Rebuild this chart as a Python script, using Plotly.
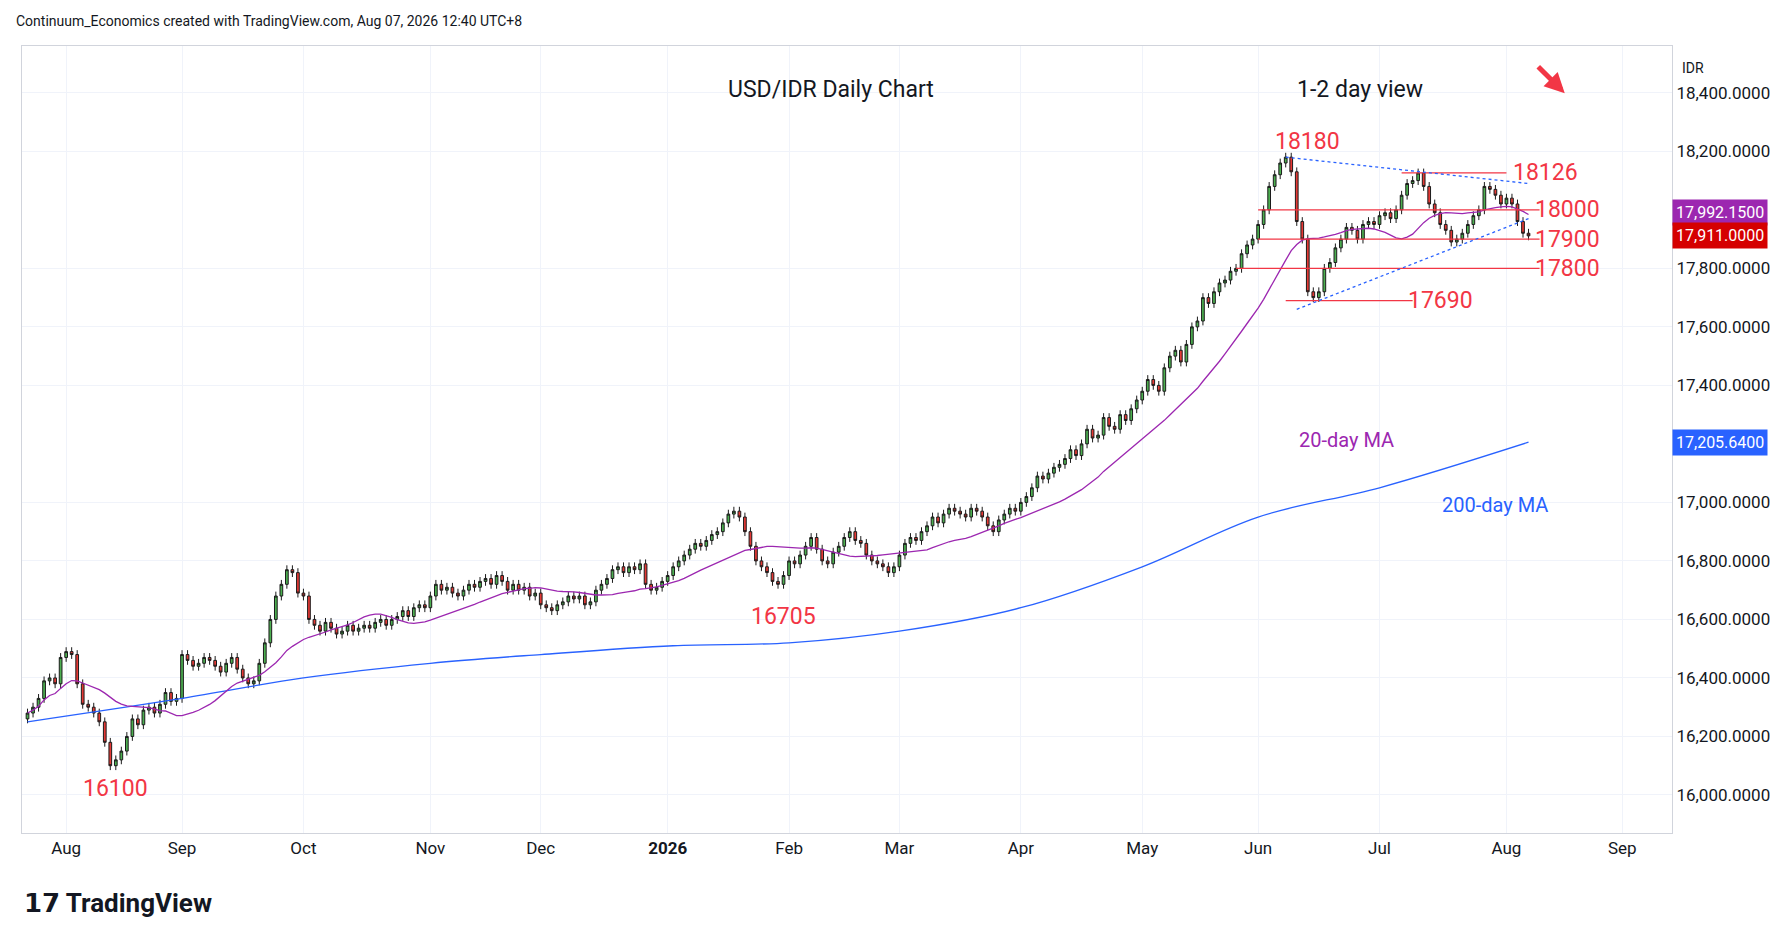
import plotly.graph_objects as go
import pandas as pd

closes = [16280,16300,16330,16390,16400,16380,16470,
16490,16480,16380,16310,16300,16280,16250,16180,16100,16120,16150,16200,16260,16240,16290,16300,16280,16310,16350,16320,16330,
16480,16460,16440,16450,16470,16460,16440,16420,16450,16470,16430,16400,16380,16390,16450,16520,16600,16680,16720,16770,16760,16690,
16680,16600,16580,16560,16590,16570,16550,16560,16580,16560,16570,16580,16570,16590,16600,16580,16600,16610,16630,16610,16640,16650,16640,
16680,16720,16700,16710,16690,16680,16700,16720,16710,16730,16740,16720,16750,16730,16700,16720,16700,16710,16680,16690,
16650,16640,16630,16650,16660,16680,16670,16680,16650,16660,16700,16720,16740,16770,16780,16760,16780,16770,16790,16720,16700,16710,16730,
16750,16780,16800,16820,16840,16860,16850,16870,16890,16900,16930,16960,16970,16950,16900,16850,16800,16780,16760,16730,16720,16750,
16800,16790,16820,16850,16880,16840,16800,16790,16830,16850,16880,16900,16870,16860,16820,16800,16790,16780,16760,16780,
16820,16860,16880,16870,16900,16920,16950,16930,16960,16980,16970,16960,16950,16980,16970,16950,16920,16900,16940,16960,16980,16970,
17000,17020,17050,17090,17080,17100,17120,17130,17150,17180,17160,17200,17250,17220,17230,17290,17260,17250,17300,17280,17320,17350,
17380,17420,17400,17380,17460,17500,17520,17480,17540,17600,17620,17700,17680,17720,17750,17760,17790,17800,17850,17880,17900,
17950,18000,18080,18120,18160,18180,18130,17960,17900,17720,17700,17720,17800,17820,17870,17900,17940,17930,17900,17950,17960,17950,
17980,17990,17970,18000,18050,18090,18100,18126,18080,18020,17990,17950,17930,17890,17900,17920,17950,17980,18000,18080,18070,18050,18020,
18040,18020,17960,17920,17911]

ma200_dates = ["2025-07-23","2025-09-01","2025-10-01","2025-11-03","2025-12-01","2026-01-02","2026-02-02",
               "2026-03-02","2026-04-01","2026-05-01","2026-06-01","2026-07-01","2026-08-07"]
ma200_vals = [16250,16330,16400,16450,16480,16510,16520,16560,16640,16780,16950,17050,17205.64]

levels = [18126, 18000, 17900, 17800, 17690]
price_ticks = [16000, 16200, 16400, 16600, 16800, 17000, 17400, 17600, 17800, 18200, 18400]

dates = pd.bdate_range(end="2026-08-07", periods=len(closes))
df = pd.DataFrame({"close": closes}, index=dates)
df["open"] = df["close"].shift(1).fillna(closes[0] - 20)
df["high"] = df[["open", "close"]].max(axis=1) + 15
df["low"] = df[["open", "close"]].min(axis=1) - 15
ma20 = df["close"].rolling(20, min_periods=1).mean()

RED = "#f23645"
fig = go.Figure()
fig.add_trace(go.Scatter(x=ma200_dates, y=ma200_vals, mode="lines", line=dict(color="#2962ff", width=1.3, shape="spline"), showlegend=False))
fig.add_trace(go.Scatter(x=dates, y=ma20, mode="lines", line=dict(color="#9c27b0", width=1.3), showlegend=False))
fig.add_trace(go.Candlestick(x=dates, open=df["open"], high=df["high"], low=df["low"], close=df["close"],
    increasing=dict(line=dict(color="#1b1b1b", width=1), fillcolor="#4caf50"),
    decreasing=dict(line=dict(color="#1b1b1b", width=1), fillcolor="#e53935"),
    whiskerwidth=0, showlegend=False))

# support / resistance lines
spans = [("2026-07-07", "2026-08-03"), ("2026-06-01", "2026-08-11"), ("2026-06-01", "2026-08-11"),
         ("2026-05-26", "2026-08-11"), ("2026-06-08", "2026-07-09")]
for lv, (a, b) in zip(levels, spans):
    fig.add_trace(go.Scatter(x=[a, b], y=[lv, lv], mode="lines", line=dict(color=RED, width=1.3), showlegend=False))
fig.add_trace(go.Scatter(x=["2026-06-08", "2026-08-07"], y=[18180, 18090], mode="lines",
                         line=dict(color="#2962ff", width=1.3, dash="dot"), showlegend=False))
fig.add_trace(go.Scatter(x=["2026-06-10", "2026-08-07"], y=[17660, 17970], mode="lines",
                         line=dict(color="#2962ff", width=1.3, dash="dot"), showlegend=False))

labels = [("2026-06-12", 18180, "18180", 16), ("2026-08-12", 18126, "18126", 0), ("2026-08-18", 18000, "18000", 0),
          ("2026-08-18", 17900, "17900", 0), ("2026-08-18", 17800, "17800", 0), ("2026-07-16", 17690, "17690", 0),
          ("2025-08-14", 16110, "16100", -26), ("2026-01-30", 16700, "16705", -26)]
for x, y, t, ys in labels:
    fig.add_annotation(x=x, y=y, text=t, showarrow=False, font=dict(color=RED, size=23), yshift=ys)
fig.add_annotation(x="2026-06-23", y=17215, text="20-day MA", showarrow=False, font=dict(color="#9c27b0", size=20))
fig.add_annotation(x="2026-07-30", y=16990, text="200-day MA", showarrow=False, font=dict(color="#2962ff", size=20))
fig.add_annotation(xref="paper", x=0.49, yref="paper", y=0.965, text="USD/IDR Daily Chart", showarrow=False,
                   font=dict(size=23, color="#131722"))
fig.add_annotation(xref="paper", x=0.85, yref="paper", y=0.965, text="1-2 day view", showarrow=False,
                   font=dict(size=23, color="#131722"))
fig.add_annotation(xref="paper", x=0.935, yref="paper", y=0.94, ax=-28, ay=-28, text="", showarrow=True,
                   arrowhead=2, arrowsize=0.8, arrowwidth=5, arrowcolor=RED)

# right-side price tags
for v, c in [(17992.15, "#9c27b0"), (17911, "#d50000"), (17205.64, "#2962ff")]:
    fig.add_annotation(xref="paper", x=1.0, y=v, xanchor="left", text=f"{v:,.4f}", showarrow=False,
                       bgcolor=c, font=dict(color="white", size=16), borderpad=3)

month_ticks = [pd.bdate_range(d, periods=1)[0] for d in pd.date_range("2025-08-01", "2026-09-01", freq="MS")]
month_text = ["<b>2026</b>" if d.month == 1 else d.strftime("%b") for d in month_ticks]

fig.update_layout(
    width=1792, height=942, plot_bgcolor="white", paper_bgcolor="white",
    margin=dict(l=14, r=128, t=38, b=117),
    font=dict(family="Roboto, sans-serif", color="#131722"),
    xaxis=dict(rangeslider=dict(visible=False), range=["2025-07-22", "2026-09-12"],
               rangebreaks=[dict(bounds=["sat", "mon"])], tickvals=month_ticks, ticktext=month_text,
               showgrid=True, gridcolor="#f0f3fa", tickfont=dict(size=17), ticks="", showline=True,
               linecolor="#d1d4dc", mirror=True),
    yaxis=dict(side="right", range=[15870, 18560], tickvals=price_ticks,
               tickformat=",.4f", showgrid=True, gridcolor="#f0f3fa", tickfont=dict(size=17),
               showline=True, linecolor="#d1d4dc", mirror=True),
)
fig.add_annotation(xref="paper", yref="paper", x=-0.005, y=1.045, xanchor="left", showarrow=False,
                   text="Continuum_Economics created with TradingView.com, Aug 07, 2026 12:40 UTC+8", font=dict(size=14))
fig.add_annotation(xref="paper", yref="paper", x=1.005, y=0.985, xanchor="left", showarrow=False, text="IDR", font=dict(size=14))
fig.add_annotation(xref="paper", yref="paper", x=0.0, y=-0.11, xanchor="left", showarrow=False,
                   text="<b>𝟭𝟳 TradingView</b>", font=dict(size=26))
fig.write_html("out.html")
